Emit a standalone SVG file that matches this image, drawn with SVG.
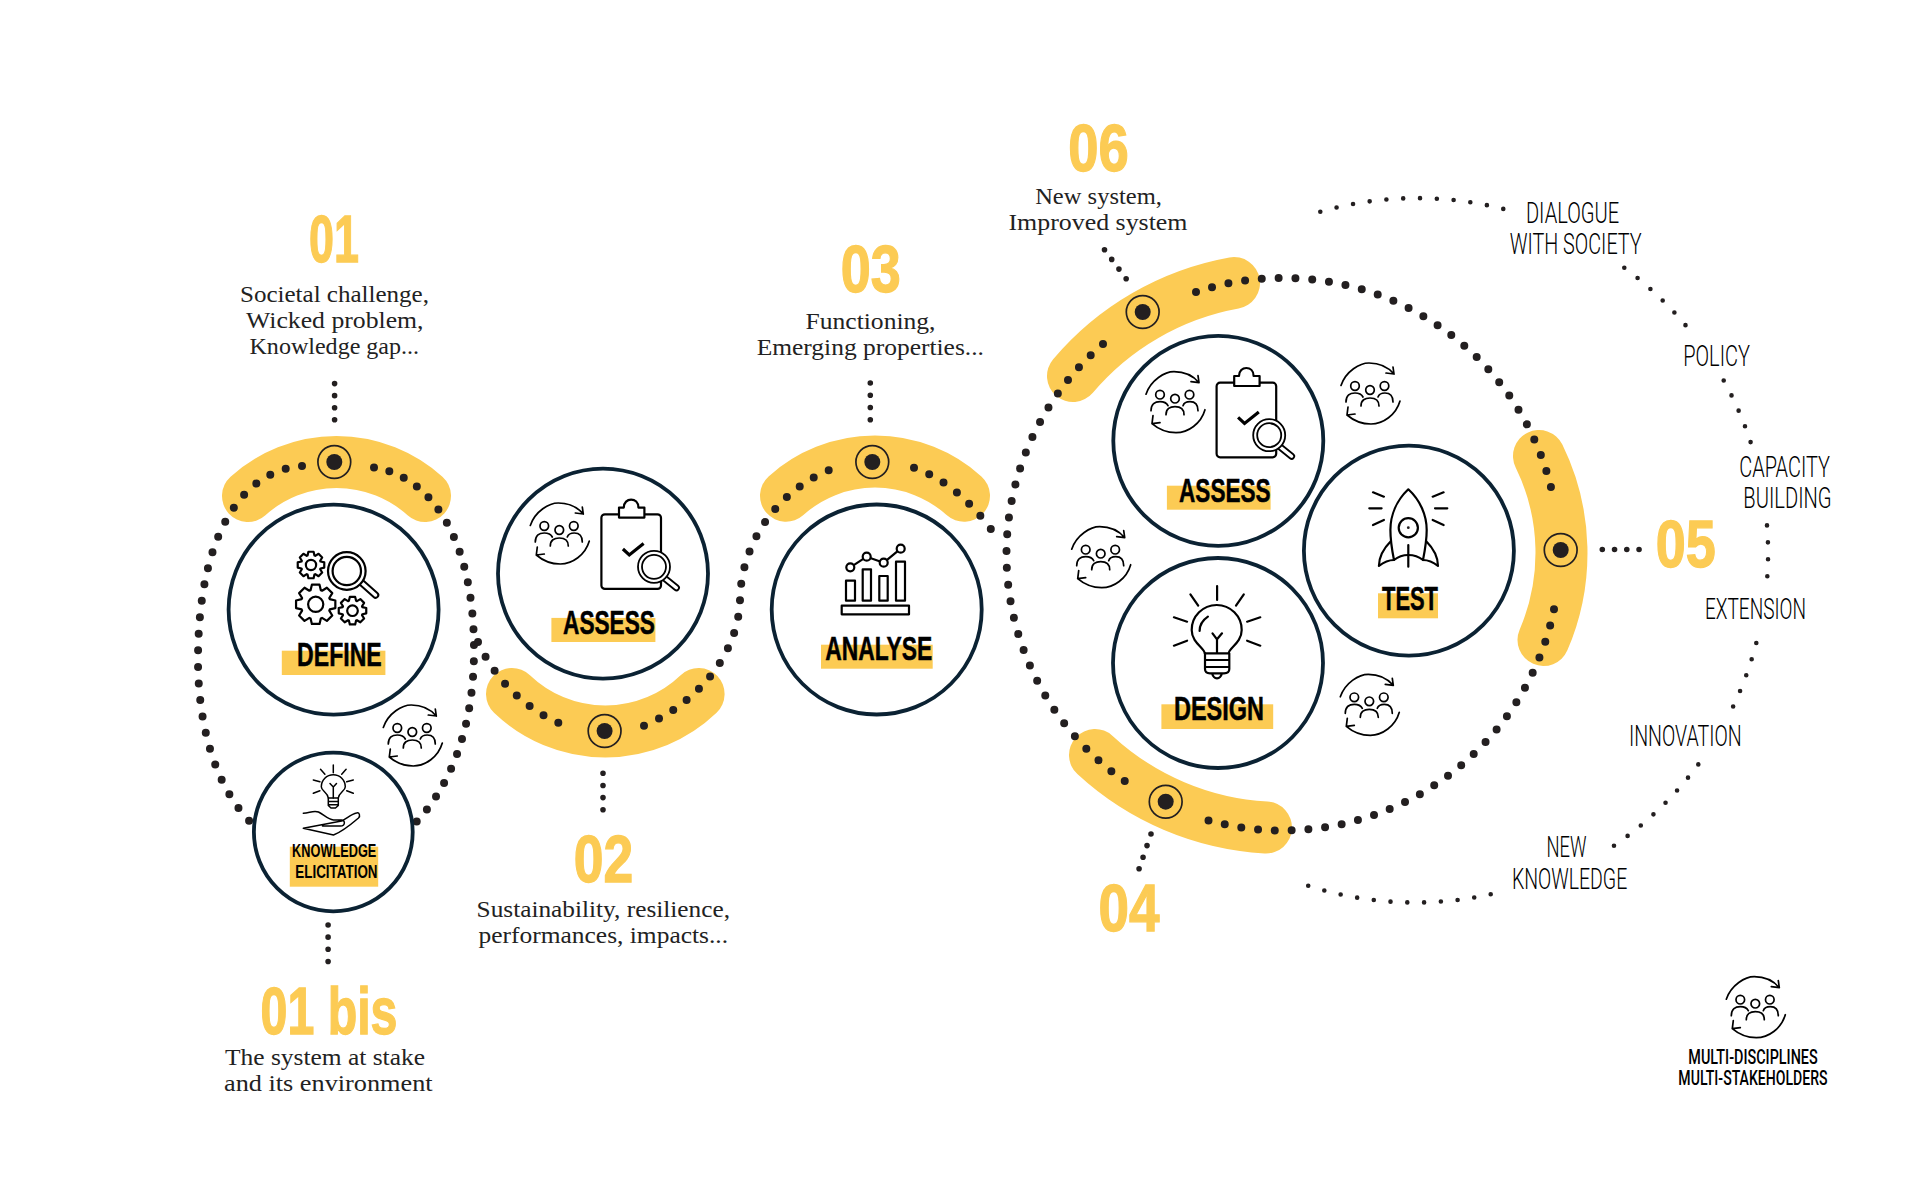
<svg xmlns="http://www.w3.org/2000/svg" width="1920" height="1190" viewBox="0 0 1920 1190">
<style>
text{text-anchor:middle}
.band{fill:none;stroke:#fccb54;stroke-width:52;stroke-linecap:round}
.big,.small,.tiny{fill:none;stroke:#231f20;stroke-linecap:round;stroke-dasharray:0 1}
.big{stroke-width:8}.small{stroke-width:5.6}.tiny{stroke-width:4.6}
.ring{fill:#fff;stroke:#0b2233;stroke-width:3.8}
.target{fill:none;stroke:#231f20;stroke-width:1.7}
.core{fill:#231f20}
.num{font-family:"Liberation Sans",sans-serif;font-weight:700;font-size:66px;fill:#fccb54;stroke:#fccb54;stroke-width:1.3}
.desc{font-family:"Liberation Serif",serif;font-size:24px;fill:#222}
.lab{font-family:"Liberation Sans",sans-serif;font-weight:700;font-size:33.5px;fill:#000;stroke:#000;stroke-width:.5}
.ke{font-family:"Liberation Sans",sans-serif;font-weight:700;font-size:18.5px;fill:#000}
.out{font-family:"Roboto",sans-serif;font-weight:300;font-size:29px;fill:#000}
.leg{font-family:"Roboto",sans-serif;font-weight:500;font-size:20px;fill:#000}
.hl{fill:#fccb54}
.ic{fill:none;stroke:#000;stroke-width:2.2;stroke-linecap:round;stroke-linejoin:round}
.icw{fill:#fff;stroke:#000;stroke-width:2.2;stroke-linecap:round;stroke-linejoin:round}
.th{fill:none;stroke:#000;stroke-width:1.7;stroke-linecap:round;stroke-linejoin:round}
</style>
<defs>
<g id="team" class="th">
<path d="M-29,-7.5C-24,-22 -10,-30 -1,-30C9,-30 18,-26 24,-19M24,-19L16,-20M24,-19L23,-26"/>
<path d="M30,8C26,22 13,31 1,31C-8,31 -16,28 -23,22M-23,22L-15,21M-23,22L-22,14"/>
<circle cx="-15" cy="-7" r="4.3"/><circle cx="0" cy="-3" r="4.3"/><circle cx="14.5" cy="-7" r="4.3"/>
<path d="M-24,9C-24,2 -20,0 -15,0C-11,0 -8,2 -7,4M-9,13C-9,7 -5,5 0,5C5,5 9,7 9,13M8,4C9,1 12,0 15,0C20,0 23,2 23,9"/>
</g>
<g id="gear">
<path vector-effect="non-scaling-stroke" fill="#fff" stroke="#000" stroke-width="2.2" stroke-linejoin="round" d="M7.05,-2.57L9.82,-1.91 9.82,1.91 7.05,2.57 6.8,3.17 8.29,5.59 5.59,8.29 3.17,6.8 2.57,7.05 1.91,9.82 -1.91,9.82 -2.57,7.05 -3.17,6.8 -5.59,8.29 -8.29,5.59 -6.8,3.17 -7.05,2.57 -9.82,1.91 -9.82,-1.91 -7.05,-2.57 -6.8,-3.17 -8.29,-5.59 -5.59,-8.29 -3.17,-6.8 -2.57,-7.05 -1.91,-9.82 1.91,-9.82 2.57,-7.05 3.17,-6.8 5.59,-8.29 8.29,-5.59 6.8,-3.17Z"/>
<circle vector-effect="non-scaling-stroke" r="3.8" fill="#fff" stroke="#000" stroke-width="2.2"/>
</g>
<g id="clip">
<rect class="icw" x="0" y="0" width="59.6" height="74.6" rx="3.5"/>
<path class="icw" d="M17.6,3.3V-6.7H22.4C22.4,-12 26,-14.7 29.7,-14.7C33.5,-14.7 37,-12 37,-6.7H43V3.3Z"/>
<path d="M21.5,34.7L27.9,40.7 42.2,29.3" fill="none" stroke="#000" stroke-width="3.2"/>
<path d="M62,63L75,73.5" stroke="#000" stroke-width="7" stroke-linecap="round"/>
<path d="M62,63L75,73.5" stroke="#fff" stroke-width="3.4" stroke-linecap="round"/>
<circle class="icw" cx="52.6" cy="52.5" r="16" style="stroke-width:1.8"/>
<circle class="ic" cx="52.6" cy="52.5" r="12" style="stroke-width:1.8"/>
</g>
</defs>

<g id="connectors">
<g id="bands">
<path class="band" d="M248,496A132,132 0 0 1 425,496"/>
<path class="band" d="M512,694A135,135 0 0 0 698.6,694"/>
<path class="band" d="M786,495.7A133,133 0 0 1 964,495.7"/>
<path class="band" d="M1073,376A275,275 0 0 1 1234,283"/>
<path class="band" d="M1539,456A220,220 0 0 1 1543.5,640"/>
<path class="band" d="M1095,755A275,275 0 0 0 1266,827.5"/>
</g>
<g id="dotted-main">
<path class="big" pathLength="25.02" d="M302,466C245,470 198,530 198,660C198,725 215,785 249.3,821"/>
<path class="big" pathLength="26.02" d="M374,467.5C425,475 474,530 474,650C474,720 455,780 416.5,821.7"/>
<path class="big" pathLength="7.02" d="M478,642C495,680 525,708 558.6,723"/>
<path class="big" pathLength="20.02" d="M644,725.7C690,707 738,660 740,600C741,540 780,490 829,470"/>
<path class="big" pathLength="6.02" d="M914,467.7Q957,483 991,529.3"/>
<path class="big" pathLength="30.02" d="M1103,344A277,277 0 0 0 1125,781.3"/>
<path class="big" pathLength="27.02" d="M1196,292A276,276 0 0 1 1551,487.3"/>
<path class="big" pathLength="27.02" d="M1554,609.3A277,277 0 0 1 1208.2,820.3"/>
</g>
<g id="dotted-leaders">
<path class="small" pathLength="3.02" d="M334.6,383.6V420"/>
<path class="small" pathLength="3.02" d="M603,773.3V810"/>
<path class="small" pathLength="3.02" d="M328.1,925V961.7"/>
<path class="small" pathLength="3.02" d="M870.3,383V420"/>
<path class="small" pathLength="3.02" d="M1104.5,249.7L1126.3,279"/>
<path class="small" pathLength="3.02" d="M1151,834L1139,869"/>
<path class="small" pathLength="3.02" d="M1602.3,549.5H1639.3"/>
</g>
<g id="dotted-outer">
<path class="tiny" pathLength="11.02" d="M1320.3,211.7A351,351 0 0 1 1503.6,209"/>
<path class="tiny" pathLength="5.02" d="M1624.3,267.8A351,351 0 0 1 1685.7,325.4"/>
<path class="tiny" pathLength="4.02" d="M1723.7,380.5A351,351 0 0 1 1750.7,442.4"/>
<path class="tiny" pathLength="3.02" d="M1767,525.4A351,351 0 0 1 1767.3,576.6"/>
<path class="tiny" pathLength="4.02" d="M1756.3,643A351,351 0 0 1 1733,706.8"/>
<path class="tiny" pathLength="7.02" d="M1698.3,764.4A351,351 0 0 1 1613.7,845.9"/>
<path class="tiny" pathLength="11.02" d="M1490.7,894.3A351,351 0 0 1 1307.9,885.7"/>
</g>
<g id="targets">
<g transform="translate(334.3,462)"><circle class="target" r="16.4"/><circle class="core" r="8"/></g>
<g transform="translate(604.6,731)"><circle class="target" r="16.4"/><circle class="core" r="8"/></g>
<g transform="translate(872.3,462)"><circle class="target" r="16.4"/><circle class="core" r="8"/></g>
<g transform="translate(1142.7,312)"><circle class="target" r="16.4"/><circle class="core" r="8"/></g>
<g transform="translate(1560.7,550)"><circle class="target" r="16.4"/><circle class="core" r="8"/></g>
<g transform="translate(1165.7,801.7)"><circle class="target" r="16.4"/><circle class="core" r="8"/></g>
</g>
</g>

<g id="node-define">
<circle class="ring" cx="333.6" cy="609.6" r="105"/>
<use href="#gear" transform="translate(311,565) scale(1.35)"/>
<use href="#gear" transform="translate(315.7,604.3) scale(2)"/>
<use href="#gear" transform="translate(352.5,610.7) scale(1.4)"/>
<path d="M362,583L375.5,595" stroke="#000" stroke-width="7.5" stroke-linecap="round"/>
<path d="M362,583L375.5,595" stroke="#fff" stroke-width="3.5" stroke-linecap="round"/>
<circle class="icw" cx="346.8" cy="571" r="18.8"/>
<circle class="ic" cx="346.8" cy="571" r="14.2"/>
<rect class="hl" x="281.8" y="650.7" width="103.6" height="24.3"/>
<text class="lab" x="339.4" y="666" textLength="84.6" lengthAdjust="spacingAndGlyphs">DEFINE</text>
</g>

<g id="node-knowledge-elicitation">
<circle class="ring" cx="333.3" cy="832" r="79.4"/>
<g class="ic" style="stroke-width:1.5">
<path d="M328.3,798C327.5,792 321.3,791 321.3,786.7A12,12 0 1 1 345.3,786.7C345.3,791 339.1,792 338.3,798Z"/>
<path d="M328.3,798V805.5L331,808H335.5L338.3,805.5V798M328.3,801.5H338.3M328.3,804.8H338.3M333.3,798V787M330,783.5L333.3,787 336.5,783.5"/>
<path d="M333.3,765V772.7M320.5,769.3L324.9,774.3M346.1,769.3L341.7,774.3M313.3,780L319.9,781.7M353.3,780L346.7,781.7M313.3,793.3L319.9,790.7M353.3,793.3L346.7,790.7"/>
<path d="M303.3,813.3C309.5,813 313.5,810 318.5,812C324.5,815 327.5,819 333.5,820L341.5,820C345.5,820 345.5,826 340.5,826L322.5,826M341.5,821C347.5,818 351.5,814 356.5,813C359.5,812 360.5,816 358.5,818C351.5,824 341.5,832 333.5,835L303.3,828.3Z"/>
</g>
<rect class="hl" x="289.8" y="846.7" width="88.4" height="40"/>
<text class="ke" x="334.2" y="856.7" textLength="84.2" lengthAdjust="spacingAndGlyphs">KNOWLEDGE</text>
<text class="ke" x="336.4" y="878.3" textLength="82.3" lengthAdjust="spacingAndGlyphs">ELICITATION</text>
</g>

<g id="node-assess-1">
<circle class="ring" cx="603" cy="573.6" r="105"/>
<use href="#team" x="559.3" y="533"/>
<use href="#clip" x="601.4" y="514.3"/>
<rect class="hl" x="551.4" y="617.9" width="104" height="24.1"/>
<text class="lab" x="609" y="634" textLength="92" lengthAdjust="spacingAndGlyphs">ASSESS</text>
</g>

<g id="node-analyse">
<circle class="ring" cx="876.7" cy="609.5" r="105"/>
<g class="ic">
<rect x="841.7" y="605.7" width="67.3" height="8.6"/>
<rect x="846" y="580.7" width="9" height="20"/>
<rect x="862.7" y="569.3" width="8.3" height="31.4"/>
<rect x="879.3" y="576" width="8.4" height="24.7"/>
<rect x="896" y="561.7" width="9" height="39"/>
<path d="M850.3,567.3L866.7,556.7 883.7,562.7 900.7,548.7"/>
</g>
<g class="icw">
<circle cx="850.3" cy="567.3" r="4"/><circle cx="866.7" cy="556.7" r="4"/><circle cx="883.7" cy="562.7" r="4"/><circle cx="900.7" cy="548.7" r="4"/>
</g>
<rect class="hl" x="821" y="644.7" width="111.7" height="24"/>
<text class="lab" x="878.8" y="660" textLength="107" lengthAdjust="spacingAndGlyphs">ANALYSE</text>
</g>

<g id="node-assess-2">
<circle class="ring" cx="1218.3" cy="440.8" r="105"/>
<use href="#team" x="1175" y="401.7"/>
<use href="#clip" x="1216.6" y="382.7"/>
<rect class="hl" x="1166.9" y="485.7" width="103.7" height="24"/>
<text class="lab" x="1224.8" y="501.7" textLength="91.5" lengthAdjust="spacingAndGlyphs">ASSESS</text>
</g>

<g id="node-test">
<circle class="ring" cx="1408.9" cy="550.7" r="105"/>
<g class="ic">
<path d="M1408.3,489.3C1397,500 1390.4,515 1390.4,530C1390.4,540 1392,550 1394,560C1399,556 1404,555 1408.3,555C1413,555 1418,556 1423,560C1425,550 1426.7,540 1426.7,530C1426.7,515 1420,500 1408.3,489.3Z"/>
<path d="M1391,541C1384,548 1379,556 1378.9,566C1384,562 1389,560 1394,560M1426,541C1433,548 1438,556 1438,566C1433,562 1428,560 1423,560"/>
<circle cx="1408.3" cy="527.7" r="9.6"/>
<path d="M1408.3,545V566.7"/>
<path d="M1373,492.3L1383.9,496.7M1369.3,508.3H1381.6M1373,525L1383.9,520M1443.6,492.3L1432.7,496.7M1447.3,508.3H1435M1443.6,525L1432.7,520"/>
</g>
<circle class="core" cx="1408.3" cy="527.7" r="1.4"/>
<rect class="hl" x="1378" y="593.3" width="60" height="25"/>
<text class="lab" x="1410" y="610" textLength="56" lengthAdjust="spacingAndGlyphs">TEST</text>
</g>

<g id="node-design">
<circle class="ring" cx="1218" cy="663" r="105"/>
<g class="ic">
<path d="M1205,653.3C1205,648 1192,643 1192,630A25,25 0 1 1 1242,630C1242,643 1229,648 1229,653.3Z" transform="translate(-0.3,0)"/>
<path d="M1205,653.3V669C1205,672 1207,673.3 1210,673.3H1224C1227,673.3 1229.3,672 1229.3,669V653.3M1205,660H1229.3M1205,667H1229.3M1212,673.3C1213,677 1215,678.3 1217,678.3C1219,678.3 1221,677 1222,673.3"/>
<path d="M1217,653V639.3M1212.5,633.3L1217,639.3 1222,633.3M1199.6,631C1199.6,625 1203,620 1207.9,616.7"/>
<path d="M1217.1,586V600M1190.4,594.3L1198.2,605.7M1243.8,594.3L1236,605.7M1173.9,617.3L1187.1,621.7M1260.3,617.3L1247.1,621.7M1173.9,645.7L1187.1,640.7M1260.3,645.7L1247.1,640.7"/>
</g>
<rect class="hl" x="1161.4" y="704.3" width="111.8" height="24.7"/>
<text class="lab" x="1219" y="720" textLength="90" lengthAdjust="spacingAndGlyphs">DESIGN</text>
</g>

<g id="team-icons">
<use href="#team" x="412.3" y="735"/>
<use href="#team" x="1100.7" y="556.7"/>
<use href="#team" x="1370" y="393"/>
<use href="#team" x="1369.3" y="704.3"/>
</g>

<g id="step-01">
<text class="num" x="334" y="262" textLength="50" lengthAdjust="spacingAndGlyphs">01</text>
<text class="desc" x="334.5" y="301.5" textLength="189" lengthAdjust="spacingAndGlyphs">Societal challenge,</text>
<text class="desc" x="334.8" y="328" textLength="177.5" lengthAdjust="spacingAndGlyphs">Wicked problem,</text>
<text class="desc" x="334.3" y="354.3" textLength="169.6" lengthAdjust="spacingAndGlyphs">Knowledge gap...</text>
</g>
<g id="step-01bis">
<text class="num" x="329" y="1033.5" textLength="137" lengthAdjust="spacingAndGlyphs">01 bis</text>
<text class="desc" x="325" y="1065" textLength="200" lengthAdjust="spacingAndGlyphs">The system at stake</text>
<text class="desc" x="328.3" y="1091" textLength="208.6" lengthAdjust="spacingAndGlyphs">and its environment</text>
</g>
<g id="step-02">
<text class="num" x="603.5" y="881.5" textLength="59.5" lengthAdjust="spacingAndGlyphs">02</text>
<text class="desc" x="603.3" y="917" textLength="253.4" lengthAdjust="spacingAndGlyphs">Sustainability, resilience,</text>
<text class="desc" x="603.3" y="943" textLength="249.5" lengthAdjust="spacingAndGlyphs">performances, impacts...</text>
</g>
<g id="step-03">
<text class="num" x="870.8" y="292.3" textLength="60" lengthAdjust="spacingAndGlyphs">03</text>
<text class="desc" x="870.5" y="328.7" textLength="130" lengthAdjust="spacingAndGlyphs">Functioning,</text>
<text class="desc" x="870.3" y="355" textLength="227.3" lengthAdjust="spacingAndGlyphs">Emerging properties...</text>
</g>
<g id="step-04">
<text class="num" x="1129" y="930.5" textLength="61" lengthAdjust="spacingAndGlyphs">04</text>
</g>
<g id="step-05">
<text class="num" x="1685.8" y="567" textLength="60" lengthAdjust="spacingAndGlyphs">05</text>
</g>
<g id="step-06">
<text class="num" x="1098.5" y="171.3" textLength="60.5" lengthAdjust="spacingAndGlyphs">06</text>
<text class="desc" x="1098.5" y="204" textLength="126.7" lengthAdjust="spacingAndGlyphs">New system,</text>
<text class="desc" x="1098" y="230" textLength="179" lengthAdjust="spacingAndGlyphs">Improved system</text>
</g>

<g id="outcomes">
<text class="out" x="1572.6" y="223" textLength="93.3" lengthAdjust="spacingAndGlyphs">DIALOGUE</text>
<text class="out" x="1575.7" y="254" textLength="132" lengthAdjust="spacingAndGlyphs">WITH SOCIETY</text>
<text class="out" x="1716.6" y="366" textLength="66.7" lengthAdjust="spacingAndGlyphs">POLICY</text>
<text class="out" x="1784.6" y="476.5" textLength="90.7" lengthAdjust="spacingAndGlyphs">CAPACITY</text>
<text class="out" x="1787.5" y="508" textLength="88.3" lengthAdjust="spacingAndGlyphs">BUILDING</text>
<text class="out" x="1755.5" y="619" textLength="101" lengthAdjust="spacingAndGlyphs">EXTENSION</text>
<text class="out" x="1685.3" y="746" textLength="112.7" lengthAdjust="spacingAndGlyphs">INNOVATION</text>
<text class="out" x="1566.4" y="857" textLength="40" lengthAdjust="spacingAndGlyphs">NEW</text>
<text class="out" x="1569.6" y="889" textLength="115.3" lengthAdjust="spacingAndGlyphs">KNOWLEDGE</text>
</g>

<g id="legend">
<use href="#team" x="1755.3" y="1006.7"/>
<text class="leg" x="1753" y="1064.3" textLength="129.3" lengthAdjust="spacingAndGlyphs">MULTI-DISCIPLINES</text>
<text class="leg" x="1753" y="1085" textLength="149.3" lengthAdjust="spacingAndGlyphs">MULTI-STAKEHOLDERS</text>
</g>
</svg>
